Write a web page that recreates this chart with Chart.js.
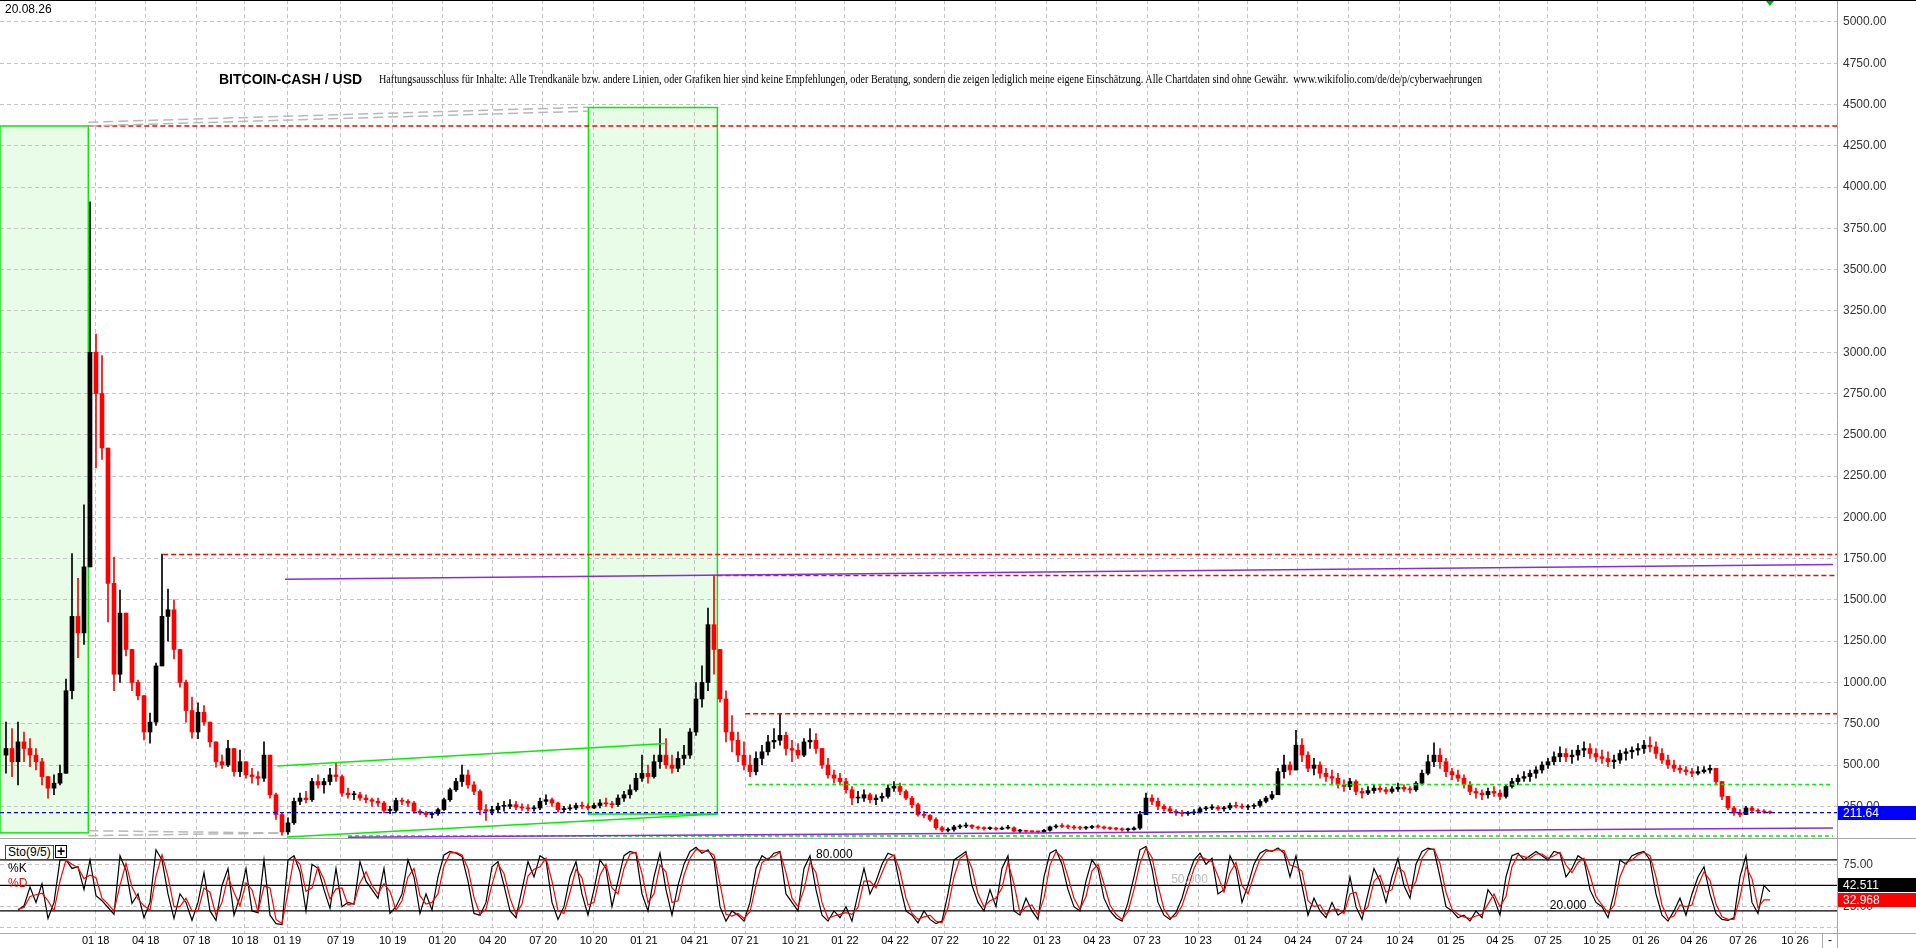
<!DOCTYPE html>
<html>
<head>
<meta charset="utf-8">
<title>BITCOIN-CASH / USD</title>
<script src="https://cdn.jsdelivr.net/npm/chart.js@4.4.1/dist/chart.umd.min.js"></script>
<style>
  html, body { margin: 0; padding: 0; background: #fff; }
  body { position: relative; width: 1916px; height: 948px; overflow: hidden; font-family: "Liberation Sans", Arial, sans-serif; }
  canvas { position: absolute; left: 0; }
  #main { top: 0; }
  #sto { top: 839px; }
  .txt { position: absolute; white-space: nowrap; line-height: 1; color: #000; }
</style>
</head>
<body>
<canvas id="main" width="1916" height="839"></canvas>
<canvas id="sto" width="1916" height="109"></canvas>
<div class="txt" style="left:5px;top:3px;font-size:12px;">20.08.26</div>
<div class="txt" style="left:219px;top:72px;font-size:14px;font-weight:bold;">BITCOIN-CASH / USD</div>
<div class="txt" id="disclaimer" style="left:379px;top:73px;font-size:12px;font-family:'Liberation Serif','Times New Roman',serif;transform-origin:0 0;">Haftungsausschluss für Inhalte: Alle Trendkanäle bzw. andere Linien, oder Grafiken hier sind keine Empfehlungen, oder Beratung, sondern die zeigen lediglich meine eigene Einschätzung. Alle Chartdaten sind ohne Gewähr.&nbsp; www.wikifolio.com/de/de/p/cyberwaehrungen</div>
<div class="txt" style="left:5px;top:845px;height:13px;line-height:13px;padding:0 2px;border:1px solid #444;background:#fff;font-size:12px;">Sto(9/5)</div>
<div class="txt" style="left:55px;top:845px;width:10px;height:11px;border:1px solid #000;background:#fff;font-size:14px;font-weight:bold;line-height:11px;text-align:center;">+</div>
<div class="txt" style="left:8px;top:862px;font-size:12px;">%K</div>
<div class="txt" style="left:8px;top:877px;font-size:12px;color:#ff0000;">%D</div>
<script>
// ---- data (x = bar number) ----
var barStart = 1;
var barOpen0 = 560;
var barHigh = [
  760,720,760,700,660,600,540,430,440,500,
  1020,1780,1630,2075,3910,3110,2980,2420,1760,1560,
  1420,1160,1015,894,815,1118,1778,1566,1500,1142,
  1015,912,876,860,760,640,560,650,600,590,
  520,480,460,640,560,330,210,180,300,330,
  340,420,440,420,480,515,440,360,340,335,
  320,300,300,280,250,300,300,290,280,230,
  220,215,240,300,360,420,500,470,400,350,
  260,250,270,280,290,280,265,260,255,300,
  320,300,275,250,260,270,275,265,270,290,
  300,280,320,340,380,450,560,500,560,720,
  660,560,580,620,720,1000,1100,1450,1650,1200,
  950,800,700,640,560,580,620,680,720,811,
  700,650,630,660,720,690,600,540,470,450,
  420,370,340,350,330,320,330,380,400,390,
  350,310,270,220,200,180,130,120,135,140,
  150,140,130,125,125,122,125,135,125,110,
  105,102,100,110,130,140,145,138,135,130,
  128,135,138,130,125,122,120,118,125,220,
  330,320,300,260,250,230,225,220,230,245,
  250,260,255,250,270,275,265,260,265,290,
  310,340,480,560,520,710,660,580,540,520,
  480,470,450,410,420,410,360,370,380,375,
  365,370,390,380,370,400,470,560,635,600,
  540,480,470,440,400,360,350,360,370,350,
  380,420,440,460,470,490,520,540,580,610,
  600,590,620,640,630,600,590,580,560,590,
  600,610,630,650,670,640,600,560,530,500,
  490,480,490,490,500,480,400,310,250,230,
  250,250,235,230,222
];
var barLow = [
  450,430,380,520,490,470,380,300,320,380,
  640,900,1150,1230,1950,2300,2350,1367,950,1000,
  1160,950,894,652,633,740,1100,1250,1142,972,
  760,663,660,740,609,487,480,490,433,430,
  420,390,380,400,300,170,75,80,140,260,
  270,280,360,330,380,400,310,300,290,285,
  270,250,250,210,205,215,260,250,210,200,
  185,180,195,225,280,340,370,360,320,200,
  165,200,215,220,235,230,225,220,220,230,
  260,250,215,215,225,230,235,230,235,240,
  250,240,250,280,300,340,400,390,420,480,
  480,450,460,500,540,680,850,950,1050,880,
  640,580,520,470,430,440,500,560,600,620,
  560,520,540,550,600,570,480,420,390,380,
  330,260,270,280,270,260,280,300,340,320,
  290,240,190,180,160,110,95,95,100,115,
  120,115,110,105,108,105,108,112,95,90,
  92,90,88,92,100,118,120,115,110,108,
  110,115,118,112,108,105,100,98,105,110,
  200,260,230,220,210,195,190,195,200,210,
  225,230,225,220,230,240,235,230,235,245,
  270,290,320,420,440,470,520,460,440,420,
  400,380,360,340,350,320,300,320,330,335,
  325,330,340,340,330,340,380,440,490,480,
  430,410,400,360,320,300,290,300,310,290,
  300,360,380,400,400,420,450,480,500,520,
  520,510,530,550,540,520,510,490,480,510,
  530,540,560,570,580,540,510,480,460,450,
  440,430,440,450,450,380,290,230,195,185,
  200,215,210,208,205
];
var barClose = [
  600,520,640,600,560,520,430,360,390,450,
  950,1400,1300,1700,3000,2750,2420,1600,1050,1420,
  1200,1000,920,700,760,1100,1400,1440,1200,1000,
  830,700,820,760,640,520,500,600,460,520,
  440,430,420,560,320,200,95,150,280,300,
  290,400,380,400,440,430,330,320,320,300,
  290,280,270,225,225,285,280,270,220,210,
  200,205,230,290,350,400,440,380,340,230,
  220,230,250,250,260,245,240,235,240,280,
  290,270,230,235,240,255,250,240,255,270,
  265,260,300,320,350,420,450,430,520,560,
  500,480,540,560,700,900,1000,1350,1200,900,
  700,650,560,500,460,540,580,640,650,680,
  600,590,560,640,650,600,500,440,420,400,
  350,300,300,320,290,300,310,360,370,340,
  300,260,200,195,170,120,105,110,125,130,
  135,125,118,115,115,112,118,120,100,100,
  98,96,95,105,125,130,128,125,120,118,
  122,128,125,118,115,112,108,110,118,200,
  300,280,250,235,220,210,205,210,215,235,
  240,245,235,240,255,250,245,250,255,280,
  300,320,460,500,470,620,560,480,500,450,
  430,420,380,370,400,340,330,345,360,350,
  340,355,365,355,350,390,450,520,560,520,
  460,440,420,380,340,330,320,340,330,310,
  370,400,420,430,450,470,500,520,550,570,
  550,560,590,600,570,550,540,520,530,570,
  580,590,600,620,610,570,530,500,480,470,
  460,450,460,470,480,400,310,240,210,200,
  240,225,220,215,211.64
];

var stoStart = 3;
var stoK = [
  21,26,48,30,52,11,30,80,80,70,
  72,45,80,38,32,24,16,85,68,29,
  40,12,30,92,80,40,11,40,30,9,
  30,65,20,9,50,70,15,37,70,20,
  18,80,15,5,4,80,85,66,20,75,
  70,45,23,70,25,30,28,78,55,45,
  35,70,17,25,40,80,60,17,40,21,
  60,86,90,88,84,55,17,15,30,72,
  78,50,20,12,45,78,60,85,80,30,
  10,25,60,78,40,15,45,80,70,25,
  55,85,90,88,40,20,60,88,45,15,
  50,75,90,95,88,92,80,25,8,20,
  15,8,30,70,85,80,88,90,40,30,
  20,70,85,45,15,8,20,12,25,8,
  40,70,40,55,75,88,85,50,20,15,
  6,20,10,5,8,40,80,85,90,50,
  30,20,45,25,70,85,20,15,35,20,
  10,60,88,92,75,45,25,20,55,80,
  70,35,20,12,8,30,60,92,96,70,
  30,15,10,18,35,60,80,88,75,82,
  40,45,85,70,30,50,75,88,92,90,
  94,88,60,85,50,15,35,20,12,30,
  15,20,60,25,10,40,70,55,30,60,
  82,50,35,75,90,94,92,60,25,20,
  12,15,8,20,12,45,35,15,60,85,
  88,80,85,90,85,80,90,88,60,70,
  85,80,45,30,25,12,40,80,75,85,
  88,90,80,40,15,8,20,35,15,40,
  60,72,40,17,10,9,12,60,85,30,
  17,50,42.511
];
var stoD = [
  22,24,37,39,41,32,20,55,80,75,
  71,58,62,59,35,28,20,50,76,48,
  34,26,21,61,86,60,25,25,35,20,
  20,47,42,15,30,60,42,26,53,45,
  19,49,47,10,5,42,82,75,43,47,
  72,57,34,46,47,27,29,53,66,50,
  40,52,43,21,32,60,70,38,28,30,
  40,73,88,89,86,70,36,16,22,51,
  75,64,35,16,28,61,69,72,82,55,
  20,17,42,69,59,27,30,62,75,47,
  40,70,87,89,64,30,40,74,66,30,
  32,62,82,92,91,90,86,52,16,14,
  17,11,19,50,77,82,84,89,65,35,
  25,45,77,65,30,11,14,16,18,16,
  24,55,55,47,65,81,86,67,35,17,
  10,13,15,8,6,24,60,82,87,70,
  40,25,32,35,47,77,52,17,25,27,
  15,35,74,90,83,60,35,22,37,67,
  75,52,27,16,10,19,45,76,94,83,
  50,22,12,14,26,47,70,84,81,78,
  61,42,65,77,50,40,62,81,90,91,
  92,91,74,72,67,32,25,27,16,21,
  22,17,40,42,17,25,55,62,42,45,
  71,66,42,55,82,92,93,76,42,22,
  16,13,11,14,16,28,40,25,37,72,
  86,84,82,87,87,82,85,89,74,65,
  77,82,62,37,27,18,26,60,77,80,
  86,89,85,60,27,11,14,27,25,27,
  50,66,56,28,13,10,10,36,72,58,
  24,33,32.968
];

var tickIdx = [15.95,24.28,32.78,40.83,47.88,56.78,65.45,73.72,82.12,90.5,98.92,107.33,115.75,124.17,132.58,
  140.83,149.17,157.5,166,174.5,182.83,191.17,199.67,208,216.33,224.83,233.33,241.83,250,258,266.17,274.33,282.33,290.5,299.17];
var tickLabels = ['01 18','04 18','07 18','10 18','01 19','07 19','10 19','01 20','04 20','07 20','10 20','01 21','04 21','07 21','10 21',
  '01 22','04 22','07 22','10 22','01 23','04 23','07 23','10 23','01 24','04 24','07 24','10 24','01 25','04 25','07 25','10 25','01 26','04 26','07 26','10 26'];
var priceTicks = [250,500,750,1000,1250,1500,1750,2000,2250,2500,2750,3000,3250,3500,3750,4000,4250,4500,4750,5000];
var stoTicks = [0,25,50,75];
var stoLevels = [80,50,20];

var lastPrice = 211.64;
var lastK = 42.511;
var lastD = 32.968;

// drawn objects in chart values: [x1, y1, x2, y2]
var redDotted = [[14.72,4370,306.17,4370],[27.2,1775,306.17,1775],[119.57,1648,306.17,1648],[124.2,811,306.17,811]];
var greenDotted = [[124.7,382,305.5,382],[58,70,305.5,70]];
var blueDotted = [[0,211.64,306.17,211.64]];
var purpleLines = [[47.5,1625,305.5,1714],[58,62,305.5,118]];
var greenLines = [[46.2,494,111,630],[47.8,64,119.57,203]];
var grayDashed = [[14.72,4393,98.07,4484],[14.72,4370,98.07,4460],[14.72,102,47.2,88],[14.72,72,47.2,88]];
var greenBoxes = [[0,89,14.72,4370],[98.07,203,119.57,4482]];

// ---- fit disclaimer width ----
var disc = document.getElementById('disclaimer');
disc.style.transform = 'scaleX(' + (1103 / disc.getBoundingClientRect().width) + ')';

Chart.defaults.font.family = "'Liberation Sans', Arial, sans-serif";
Chart.defaults.font.size = 12;
Chart.defaults.color = '#333';

var xMax = 306.17;
var gridColor = '#c4c4c4';

function noPad(s) {
  s.paddingTop = 0; s.paddingBottom = 0; s.paddingLeft = 0; s.paddingRight = 0;
}

var candles = barClose.map(function (c, k) {
  var o = k === 0 ? barOpen0 : barClose[k - 1];
  return { x: barStart + k, o: o, h: barHigh[k], l: barLow[k], c: c };
});
var candleColor = candles.map(function (d) { return d.c >= d.o ? '#000000' : '#ff0000'; });

function segs(list, color, width, dash) {
  return list.map(function (s) {
    return {
      type: 'line',
      data: [{ x: s[0], y: s[1] }, { x: s[2], y: s[3] }],
      borderColor: color, borderWidth: width, borderDash: dash,
      pointRadius: 0, fill: false, tension: 0, order: 1
    };
  });
}

var mainDecor = {
  id: 'mainDecor',
  beforeDraw: function (chart) {
    var ctx = chart.ctx, x = chart.scales.x, y = chart.scales.y;
    ctx.save();
    ctx.fillStyle = '#e8fce8';
    greenBoxes.forEach(function (b) {
      var l = x.getPixelForValue(b[0]), r = x.getPixelForValue(b[2]);
      var t = y.getPixelForValue(b[3]), bt = y.getPixelForValue(b[1]);
      ctx.fillRect(l, t, r - l, bt - t);
    });
    ctx.restore();
  },
  beforeDatasetsDraw: function (chart) {
    var ctx = chart.ctx, x = chart.scales.x, y = chart.scales.y;
    ctx.save();
    ctx.strokeStyle = '#00ee00';
    ctx.lineWidth = 1.5;
    greenBoxes.forEach(function (b) {
      var l = x.getPixelForValue(b[0]), r = x.getPixelForValue(b[2]);
      var t = y.getPixelForValue(b[3]), bt = y.getPixelForValue(b[1]);
      ctx.strokeRect(l, t, r - l, bt - t);
    });
    ctx.restore();
  },
  afterDraw: function (chart) {
    var ctx = chart.ctx, a = chart.chartArea, x = chart.scales.x, y = chart.scales.y;
    ctx.save();
    ctx.strokeStyle = '#a8a8a8';
    ctx.lineWidth = 1;
    ctx.beginPath();
    ctx.moveTo(a.right + 0.5, 0); ctx.lineTo(a.right + 0.5, chart.height);
    ctx.moveTo(0, a.bottom - 0.5); ctx.lineTo(chart.width, a.bottom - 0.5);
    ctx.stroke();
    ctx.fillStyle = '#000';
    ctx.fillRect(0, 0, chart.width, 1);
    var yp = y.getPixelForValue(lastPrice);
    ctx.fillStyle = '#0000ff';
    ctx.fillRect(a.right + 1, Math.round(yp) - 7, chart.width - a.right - 1, 14);
    ctx.fillStyle = '#fff';
    ctx.font = "12px 'Liberation Sans', Arial";
    ctx.textBaseline = 'middle';
    ctx.fillText(lastPrice.toFixed(2), a.right + 6, Math.round(yp) + 0.5);
    var mx = x.getPixelForValue(barStart + barClose.length - 1);
    ctx.fillStyle = '#00b000';
    ctx.beginPath();
    ctx.moveTo(mx - 4, 1); ctx.lineTo(mx + 4, 1); ctx.lineTo(mx, 6);
    ctx.closePath();
    ctx.fill();
    ctx.restore();
  }
};

new Chart(document.getElementById('main').getContext('2d'), {
  type: 'bar',
  data: {
    datasets: [
      {
        type: 'bar',
        data: candles.map(function (d) { return { x: d.x, y: [Math.min(d.l, d.o, d.c), Math.max(d.h, d.o, d.c)] }; }),
        backgroundColor: candleColor, borderWidth: 0, barThickness: 1, grouped: false, order: 3
      },
      {
        type: 'bar',
        data: candles.map(function (d) { return { x: d.x, y: [d.o, d.c] }; }),
        backgroundColor: candleColor, borderWidth: 0, barThickness: 4, grouped: false, minBarLength: 1, order: 2
      }
    ].concat(
      segs(grayDashed, '#b8b8b8', 1.5, [10, 5]),
      segs(greenLines, '#00f000', 1.5, []),
      segs(purpleLines, '#8a2be2', 1.5, []),
      segs(redDotted, '#ff0000', 1.5, [5, 3]),
      segs(greenDotted, '#00ee00', 1.5, [4, 3]),
      segs(blueDotted, '#0000ff', 1.2, [4, 3])
    )
  },
  options: {
    responsive: false,
    animation: false,
    events: [],
    layout: { padding: 0 },
    plugins: { legend: { display: false }, tooltip: { enabled: false } },
    scales: {
      x: {
        type: 'linear', min: 0, max: xMax, offset: false,
        grid: { color: gridColor, lineWidth: 1, drawTicks: false, offset: false },
        border: { display: false, dash: [4, 3] },
        ticks: { display: false },
        afterBuildTicks: function (s) { s.ticks = tickIdx.map(function (v) { return { value: v }; }); },
        afterFit: function (s) { s.height = 0; noPad(s); }
      },
      y: {
        type: 'linear', position: 'right', min: 52, max: 5133, beginAtZero: false,
        grid: { color: gridColor, lineWidth: 1, drawTicks: false },
        border: { display: false, dash: [4, 3] },
        ticks: { padding: 6, color: '#333', callback: function (v) { return v.toFixed(2); } },
        afterBuildTicks: function (s) { s.ticks = priceTicks.map(function (v) { return { value: v }; }); },
        afterFit: function (s) { s.width = 79; noPad(s); }
      }
    }
  },
  plugins: [mainDecor]
});

var stoDecor = {
  id: 'stoDecor',
  afterDatasetsDraw: function (chart) {
    var ctx = chart.ctx, x = chart.scales.x, y = chart.scales.y;
    ctx.save();
    ctx.font = "12px 'Liberation Sans', Arial";
    ctx.textBaseline = 'alphabetic';
    ctx.fillStyle = '#000';
    ctx.fillText('80.000', x.getPixelForValue(136), y.getPixelForValue(80) - 2);
    ctx.fillText('20.000', x.getPixelForValue(258.3), y.getPixelForValue(20) - 2);
    ctx.fillStyle = '#bdbdbd';
    ctx.fillText('50.000', x.getPixelForValue(195.2), y.getPixelForValue(50) - 2);
    ctx.restore();
  },
  afterDraw: function (chart) {
    var ctx = chart.ctx, a = chart.chartArea, y = chart.scales.y;
    ctx.save();
    ctx.strokeStyle = '#a8a8a8';
    ctx.lineWidth = 1;
    ctx.beginPath();
    ctx.moveTo(a.right + 0.5, 0); ctx.lineTo(a.right + 0.5, chart.height);
    ctx.moveTo(0, a.bottom + 0.5); ctx.lineTo(chart.width, a.bottom + 0.5);
    ctx.moveTo(a.right - 14.5, a.bottom); ctx.lineTo(a.right - 14.5, chart.height);
    ctx.stroke();
    ctx.fillStyle = '#000';
    ctx.font = "12px 'Liberation Sans', Arial";
    ctx.textBaseline = 'middle';
    ctx.fillText('-', a.right - 9, a.bottom + 8);
    var yD = Math.round(y.getPixelForValue(lastD));
    var yK = Math.round(y.getPixelForValue(lastK));
    if (Math.abs(yK - yD) < 15) { yK = yD - 15; }
    ctx.fillStyle = '#000';
    ctx.fillRect(a.right + 1, yK - 7, chart.width - a.right - 1, 14);
    ctx.fillStyle = '#ff0000';
    ctx.fillRect(a.right + 1, yD - 7, chart.width - a.right - 1, 14);
    ctx.fillStyle = '#fff';
    ctx.fillText(lastK.toFixed(3), a.right + 6, yK + 0.5);
    ctx.fillText(lastD.toFixed(3), a.right + 6, yD + 0.5);
    ctx.restore();
  }
};

var levelSets = stoLevels.map(function (v) {
  return {
    data: [{ x: 0, y: v }, { x: xMax, y: v }],
    borderColor: '#000', borderWidth: 1.2, pointRadius: 0, fill: false, order: 3
  };
});

new Chart(document.getElementById('sto').getContext('2d'), {
  type: 'line',
  data: {
    datasets: levelSets.concat([
      {
        label: '%K',
        data: stoK.map(function (v, k) { return { x: stoStart + k, y: v }; }),
        borderColor: '#000', borderWidth: 1.2, pointRadius: 0, fill: false, tension: 0, order: 2
      },
      {
        label: '%D',
        data: stoD.map(function (v, k) { return { x: stoStart + k, y: v }; }),
        borderColor: '#ff0000', borderWidth: 1.2, pointRadius: 0, fill: false, tension: 0, order: 1
      }
    ])
  },
  options: {
    responsive: false,
    animation: false,
    events: [],
    layout: { padding: { top: 1 } },
    plugins: { legend: { display: false }, tooltip: { enabled: false } },
    scales: {
      x: {
        type: 'linear', min: 0, max: xMax, offset: false,
        grid: { color: gridColor, lineWidth: 1, drawTicks: false, offset: false },
        border: { display: false, dash: [4, 3] },
        ticks: {
          autoSkip: false, maxRotation: 0, padding: 1, color: '#000', font: { size: 11 },
          callback: function (v, i) { return tickLabels[i]; }
        },
        afterBuildTicks: function (s) { s.ticks = tickIdx.map(function (v) { return { value: v }; }); },
        afterFit: function (s) { s.height = 15; noPad(s); }
      },
      y: {
        type: 'linear', position: 'right', min: -6, max: 103.5,
        grid: { color: gridColor, lineWidth: 1, drawTicks: false },
        border: { display: false, dash: [4, 3] },
        ticks: { padding: 6, color: '#333', callback: function (v) { return v === 0 ? '' : v.toFixed(2); } },
        afterBuildTicks: function (s) { s.ticks = stoTicks.map(function (v) { return { value: v }; }); },
        afterFit: function (s) { s.width = 79; noPad(s); }
      }
    }
  },
  plugins: [stoDecor]
});
</script>
</body>
</html>
